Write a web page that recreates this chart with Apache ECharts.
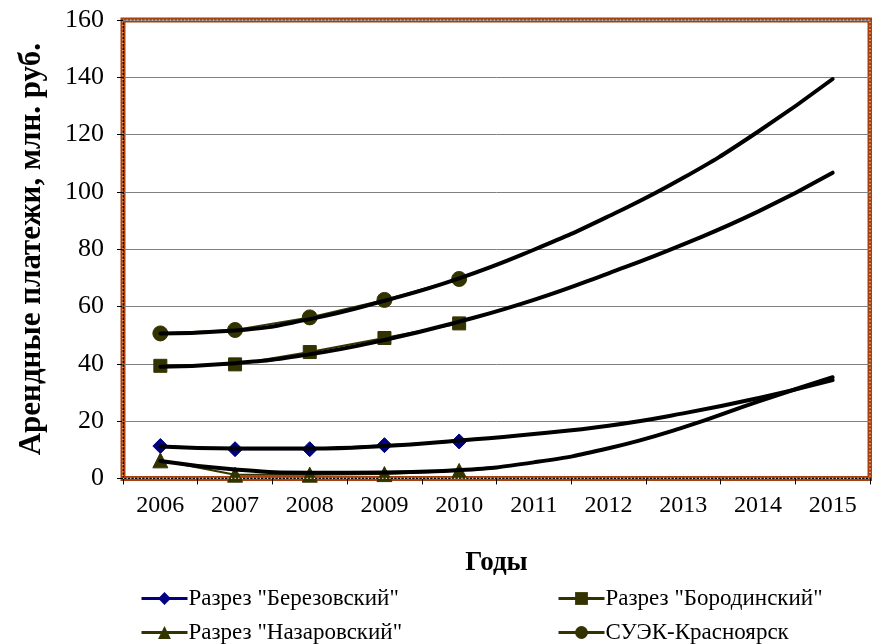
<!DOCTYPE html>
<html>
<head>
<meta charset="utf-8">
<script src="https://cdn.jsdelivr.net/npm/echarts@6/dist/echarts.min.js"></script>
<style>
  html, body { margin: 0; padding: 0; background: #fff; }
  #chart { width: 872px; height: 644px; }
</style>
</head>
<body>
<div id="chart"></div>
<script>
// Years on the category axis
const years = ['2006', '2007', '2008', '2009', '2010', '2011', '2012', '2013', '2014', '2015'];

// Actual rent payments, 2006–2010 (mln rub.)
const berezovsky = [11.3, 10.2, 10.2, 11.6, 12.9];
const borodinsky = [39.3, 39.8, 44.1, 49.0, 54.1];
const nazarovsky = [6.3, 1.3, 1.3, 1.5, 2.6];
const suek = [50.6, 51.8, 56.2, 62.3, 69.6];

// Polynomial trend lines with forecast to 2015
const trendBerezovsky = [11.1, 10.4, 10.4, 11.3, 13.2, 15.5, 18.4, 22.7, 28.0, 34.3];
const trendBorodinsky = [39.0, 40.2, 43.3, 48.3, 54.7, 62.3, 71.6, 81.7, 93.1, 106.7];
const trendNazarovsky = [6.1, 3.1, 2.0, 2.1, 2.9, 5.6, 10.5, 17.8, 26.8, 35.3];
const trendSuek = [50.6, 51.6, 55.6, 62.0, 69.8, 79.8, 91.5, 104.9, 121.0, 139.4];

// Value axis ticks
const yMin = 0, yMax = 160, yStep = 20;

const names = ['Разрез "Березовский"', 'Разрез "Бородинский"', 'Разрез "Назаровский"', 'СУЭК-Красноярск'];
const NAVY = '#000080';
const OLIVE = '#333300';

const serif = '"Liberation Serif", "Times New Roman", serif';

function dataSeries(name, data, color, symbol, size) {
  return {
    name: name, type: 'line', data: data, z: 2,
    symbol: symbol, symbolSize: size,
    lineStyle: { color: color, width: 2 },
    itemStyle: { color: color, borderColor: color },
    emphasis: { disabled: true }
  };
}
function trendSeries(data) {
  return {
    type: 'line', data: data, z: 5, smooth: 0.5,
    symbol: 'none', silent: true,
    lineStyle: { color: '#000', width: 4, cap: 'round' }
  };
}

const legendCommon = {
  orient: 'vertical', top: 587, padding: 0, height: 70,
  itemWidth: 46, itemHeight: 16, itemGap: 11,
  lineStyle: { width: 3 },
  textStyle: { fontFamily: serif, fontSize: 23, color: '#000', padding: [0, 0, 0, -4] }
};

const chart = echarts.init(document.getElementById('chart'), null, { renderer: 'canvas' });

const gridLeft = 123, gridTop = 20, gridRight = 2, gridBottom = 165.6;

chart.setOption({
  animation: false,
  backgroundColor: '#fff',
  grid: {
    left: gridLeft, top: gridTop, right: gridRight, bottom: gridBottom,
    show: true, borderColor: '#a8400e', borderWidth: 5, backgroundColor: '#fff'
  },
  xAxis: {
    type: 'category', data: years, boundaryGap: true,
    name: 'Годы', nameLocation: 'middle', nameGap: 71,
    nameTextStyle: { fontFamily: serif, fontWeight: 'bold', fontSize: 27, color: '#000' },
    axisLine: { show: true, lineStyle: { color: '#000', width: 1 } },
    axisTick: { show: true, alignWithLabel: false, length: 6, lineStyle: { color: '#000' } },
    axisLabel: { fontFamily: serif, fontSize: 24, color: '#000', margin: 15 },
    splitLine: { show: false }
  },
  yAxis: {
    type: 'value', min: yMin, max: yMax, interval: yStep,
    name: 'Арендные платежи, млн. руб.', nameLocation: 'middle', nameGap: 76, nameRotate: 90,
    nameTextStyle: { fontFamily: serif, fontWeight: 'bold', fontSize: 31, color: '#000' },
    axisLine: { show: true, lineStyle: { color: '#000', width: 1 } },
    axisTick: { show: true, length: 6, lineStyle: { color: '#000' } },
    axisLabel: { fontFamily: serif, fontSize: 26, color: '#000', margin: 19 },
    splitLine: { show: true, lineStyle: { color: '#808080', width: 1 } }
  },
  legend: [
    Object.assign({ data: [names[0], names[2]], left: 140 }, legendCommon),
    Object.assign({ data: [names[1], names[3]], left: 557 }, legendCommon)
  ],
  series: [
    dataSeries(names[0], berezovsky, NAVY, 'diamond', 15),
    dataSeries(names[1], borodinsky, OLIVE, 'rect', 13),
    dataSeries(names[2], nazarovsky, OLIVE, 'triangle', 15),
    dataSeries(names[3], suek, OLIVE, 'circle', 15),
    trendSeries(trendBerezovsky),
    trendSeries(trendBorodinsky),
    trendSeries(trendNazarovsky),
    trendSeries(trendSuek)
  ],
  graphic: [{
    type: 'rect', silent: true, z: 100,
    shape: { x: gridLeft, y: gridTop, width: 872 - gridLeft - gridRight, height: 644 - gridTop - gridBottom },
    style: { fill: null, stroke: '#f3d9c8', lineWidth: 1.2, lineDash: [1.2, 2.4] }
  }]
});
</script>
</body>
</html>
